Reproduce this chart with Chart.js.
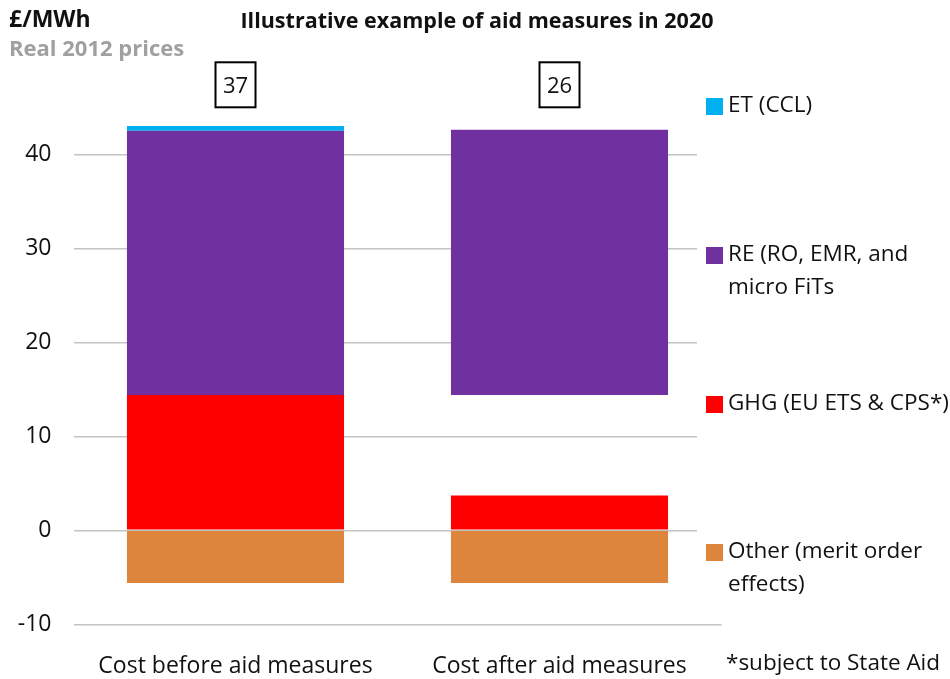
<!DOCTYPE html>
<html>
<head>
<meta charset="utf-8">
<title>Illustrative example of aid measures in 2020</title>
<script src="https://cdn.jsdelivr.net/npm/chart.js@4.4.1/dist/chart.umd.min.js"></script>
<style>
  html, body { margin: 0; padding: 0; background: #fff; }
  canvas { display: block; }
</style>
</head>
<body>
<canvas id="aidChart" width="950" height="679"></canvas>
<script>
// £/MWh, real 2012 prices
var categories = ['Cost before aid measures', 'Cost after aid measures'];
var otherValues = [-5.6, -5.6];
var ghgValues = [14.4, 3.7];
var ghgRemoved = [0, 10.7];   // empty slot left where GHG support is taken out
var reValues = [28.1, 28.2];
var etValues = [0.5, 0];
var yTicks = [-10, 0, 10, 20, 30, 40];

var legendRows = [
    { dataset: 4, lines: ['ET (CCL)'], y: 106 },
    { dataset: 3, lines: ['RE (RO, EMR, and', 'micro FiTs'], y: 255 },
    { dataset: 1, lines: ['GHG (EU ETS & CPS*)'], y: 404 },
    { dataset: 0, lines: ['Other (merit order', 'effects)'], y: 552 }
];

var FONT = "'Open Sans', sans-serif";
Chart.defaults.font.family = FONT;
Chart.defaults.color = '#111';

var aidLayout = {
    id: 'aidLayout',
    beforeDatasetsDraw: function(chart) {
        // legend column sits on white over the grid, except the bottom line
        var ctx = chart.ctx;
        ctx.save();
        ctx.fillStyle = '#fff';
        ctx.fillRect(697, 0, chart.width - 697, chart.scales.y.getPixelForValue(-7));
        ctx.restore();
    },
    afterDraw: function(chart) {
        var ctx = chart.ctx;
        var area = chart.chartArea;
        ctx.save();

        ctx.fillStyle = '#111';
        ctx.textBaseline = 'middle';
        ctx.textAlign = 'center';
        ctx.font = 'bold 21.5px ' + FONT;
        ctx.fillText('Illustrative example of aid measures in 2020', 477, 22);

        ctx.textAlign = 'left';
        ctx.font = 'bold 23px ' + FONT;
        ctx.fillText('£/MWh', 9, 20);
        ctx.fillStyle = '#a0a0a0';
        ctx.font = 'bold 22px ' + FONT;
        ctx.fillText('Real 2012 prices', 9, 50);

        // boxed net totals above each bar (spacer excluded)
        var meta = chart.getDatasetMeta(0);
        categories.forEach(function(c, i) {
            var total = otherValues[i] + ghgValues[i] + reValues[i] + etValues[i];
            var x = meta.data[i].x;
            var y = area.top + 24;
            ctx.strokeStyle = '#000';
            ctx.lineWidth = 2;
            ctx.strokeRect(x - 20, y - 22, 40, 45);
            ctx.fillStyle = '#111';
            ctx.font = '22px ' + FONT;
            ctx.textAlign = 'center';
            ctx.fillText(String(Math.round(total)), x, y + 2);
        });

        // legend
        ctx.font = '22.5px ' + FONT;
        ctx.textAlign = 'left';
        legendRows.forEach(function(row) {
            var ds = chart.data.datasets[row.dataset];
            ctx.fillStyle = ds.backgroundColor;
            ctx.fillRect(706, row.y - 8, 17, 17);
            ctx.fillStyle = '#111';
            row.lines.forEach(function(line, k) {
                ctx.fillText(line, 728, row.y + k * 33);
            });
        });
        ctx.fillText('*subject to State Aid', 726, 664);

        ctx.restore();
    }
};

new Chart(document.getElementById('aidChart'), {
    type: 'bar',
    data: {
        labels: categories,
        datasets: [
            { label: 'Other (merit order effects)', data: otherValues, backgroundColor: '#DD853D' },
            { label: 'GHG (EU ETS & CPS*)', data: ghgValues, backgroundColor: '#FF0000' },
            { label: 'GHG removed', data: ghgRemoved, backgroundColor: 'rgba(0,0,0,0)' },
            { label: 'RE (RO, EMR, and micro FiTs', data: reValues, backgroundColor: '#7030A0' },
            { label: 'ET (CCL)', data: etValues, backgroundColor: '#00B0F0' }
        ]
    },
    options: {
        responsive: false,
        animation: false,
        layout: { padding: { left: 0, right: 228.5, top: 60.3, bottom: 0 } },
        datasets: { bar: { categoryPercentage: 1, barPercentage: 0.67, borderWidth: 0 } },
        plugins: {
            legend: { display: false },
            tooltip: { enabled: false }
        },
        scales: {
            x: {
                stacked: true,
                grid: { display: false, drawTicks: false },
                border: { display: false },
                ticks: { padding: 28, font: { size: 23 }, color: '#111' },
                afterFit: function(scale) { scale.height = 54.7; }
            },
            y: {
                stacked: true,
                min: -10,
                max: 50,
                grid: { color: '#c4c4c4', lineWidth: 1.5, drawTicks: false },
                border: { display: false },
                ticks: { padding: 22, font: { size: 23 }, color: '#111' },
                afterBuildTicks: function(scale) {
                    scale.ticks = yTicks.map(function(v) { return { value: v }; });
                },
                afterFit: function(scale) { scale.width = 73.5; }
            }
        }
    },
    plugins: [aidLayout]
});
</script>
</body>
</html>
